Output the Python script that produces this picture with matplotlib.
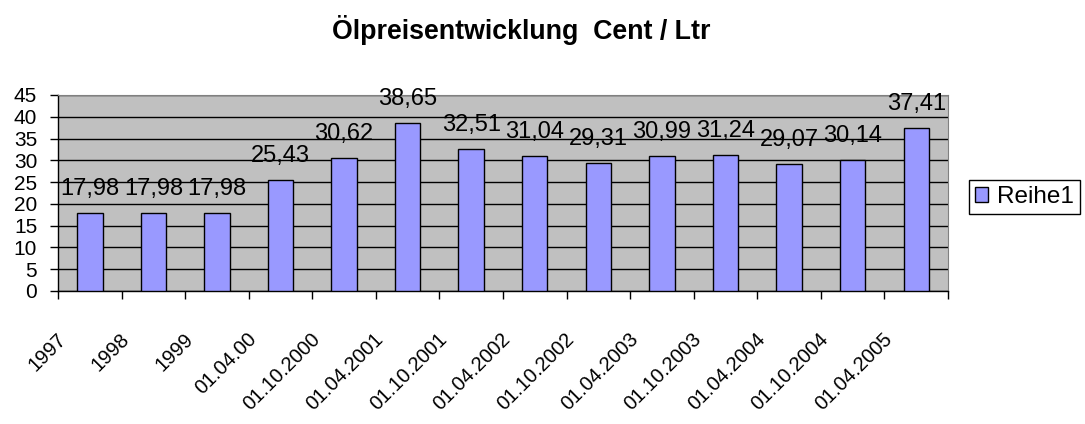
import numpy as np
import matplotlib
matplotlib.use("Agg")
import matplotlib.pyplot as plt
from matplotlib.patches import Patch
from matplotlib.transforms import ScaledTranslation

plt.rcParams['font.family'] = ['Liberation Sans', 'DejaVu Sans']

# --- Daten ---
kategorien = ['1997', '1998', '1999', '01.04.00', '01.10.2000', '01.04.2001',
              '01.10.2001', '01.04.2002', '01.10.2002', '01.04.2003',
              '01.10.2003', '01.04.2004', '01.10.2004', '01.04.2005']
preise = [17.98, 17.98, 17.98, 25.43, 30.62, 38.65, 32.51,
          31.04, 29.31, 30.99, 31.24, 29.07, 30.14, 37.41]
y_ticks = [0, 5, 10, 15, 20, 25, 30, 35, 40, 45]

fig = plt.figure(figsize=(10.85, 4.24), dpi=100)
ax = fig.add_axes([58 / 1085, 1 - 291 / 424, 890 / 1085, 196 / 424])
ax.set_facecolor('#C0C0C0')

x = np.arange(len(kategorien))
ax.bar(x, preise, width=0.4, color='#9999FF', edgecolor='black',
       linewidth=1, zorder=3)

# Werte über den Balken
for xi, v in zip(x, preise):
    ax.annotate(f"{v:.2f}".replace('.', ','), (xi, v), xytext=(0, 13),
                textcoords='offset points', ha='center', va='baseline',
                fontsize=17, color='black', zorder=4)

ax.set_xlim(-0.5, len(kategorien) - 0.5)
ax.set_ylim(0, 45)
ax.set_yticks(y_ticks)
ax.yaxis.grid(True, color='black', linewidth=1, zorder=1)
ax.set_axisbelow(True)
ax.tick_params(axis='y', direction='out', length=6, width=1, pad=9,
               labelsize=15)

# Striche an den Kategoriegrenzen, Beschriftung in der Mitte
ax.set_xticks(np.arange(len(kategorien) + 1) - 0.5)
ax.set_xticklabels([])
ax.tick_params(axis='x', which='major', direction='out', length=6, width=1)
ax.set_xticks(x, minor=True)
ax.set_xticklabels(kategorien, minor=True, rotation=45, ha='right',
                   va='center', rotation_mode='anchor', fontsize=14.5)
ax.tick_params(axis='x', which='minor', length=0, pad=0)
verschiebung = ScaledTranslation(-27 / 100, -45 / 100, fig.dpi_scale_trans)
for lab in ax.get_xticklabels(minor=True):
    lab.set_transform(lab.get_transform() + verschiebung)

for s in ['top', 'right']:
    ax.spines[s].set_color('#808080')
for s in ['left', 'bottom']:
    ax.spines[s].set_color('black')
    ax.spines[s].set_linewidth(1)

fig.text(521 / 1085, 1 - 30 / 424, 'Ölpreisentwicklung  Cent / Ltr',
         ha='center', va='center', fontsize=19.3, fontweight='bold')

leg = fig.legend(handles=[Patch(facecolor='#9999FF', edgecolor='black',
                                label='Reihe1')],
                 loc='center left', bbox_to_anchor=(969 / 1085, 1 - 197 / 424),
                 fancybox=False, edgecolor='black', fontsize=17.5,
                 handlelength=0.55, handleheight=0.55, handletextpad=0.35,
                 borderpad=0.25, borderaxespad=0, framealpha=1)
leg.get_frame().set_linewidth(1)

fig.savefig('out.png', dpi=100)
